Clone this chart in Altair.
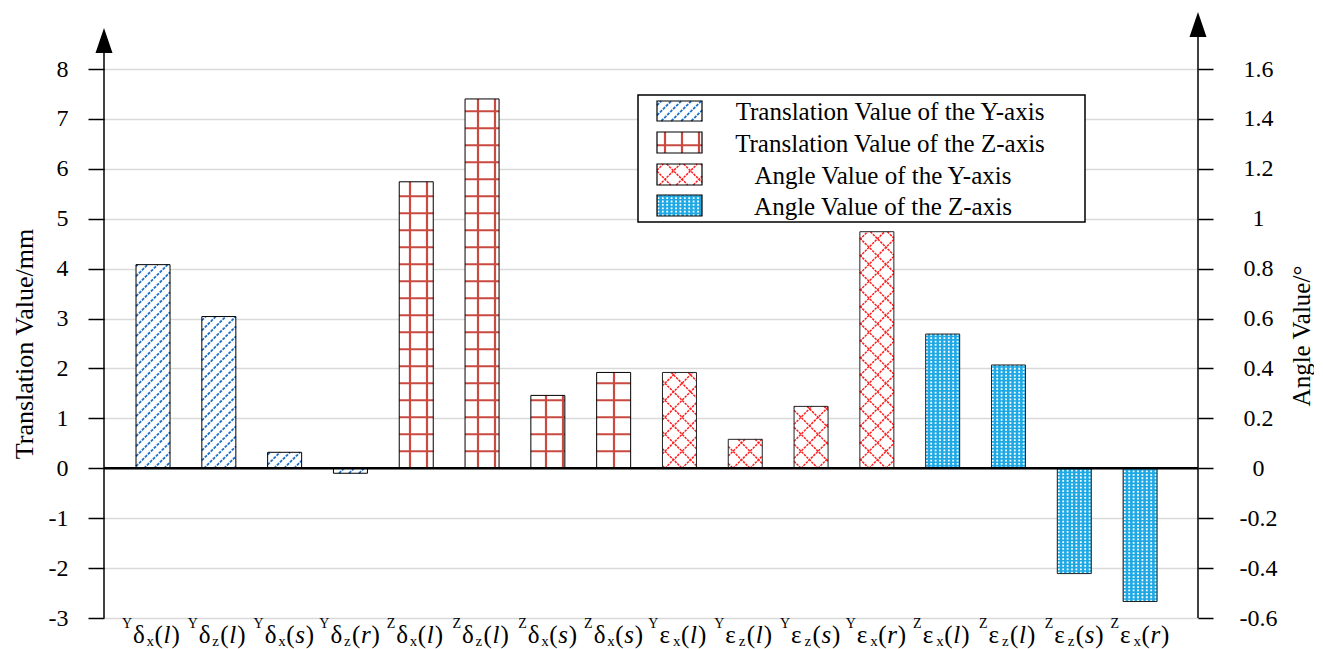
import altair as alt
import numpy as np
import pandas as pd

# ---------------- data ----------------
cat_sup = ["Y", "Y", "Y", "Y", "Z", "Z", "Z", "Z", "Y", "Y", "Y", "Y", "Z", "Z", "Z", "Z"]
cat_greek = ["δ"] * 8 + ["ε"] * 8
cat_sub = ["x", "z", "x", "z", "x", "z", "x", "x", "x", "z", "z", "x", "x", "z", "z", "x"]
cat_arg = ["l", "l", "s", "r", "l", "l", "s", "s", "l", "l", "s", "r", "l", "l", "s", "r"]
series_names = ["Translation Value of the Y-axis", "Translation Value of the Z-axis",
                "Angle Value of the Y-axis", "Angle Value of the Z-axis"]
translation_y = [4.08, 3.04, 0.32, -0.10]      # mm
translation_z = [5.74, 7.40, 1.46, 1.92]       # mm
angle_y = [0.384, 0.116, 0.248, 0.948]         # degree
angle_z = [0.538, 0.414, -0.422, -0.534]       # degree
left_ticks = [-3, -2, -1, 0, 1, 2, 3, 4, 5, 6, 7, 8]
right_ticks = [-0.6, -0.4, -0.2, 0, 0.2, 0.4, 0.6, 0.8, 1.0, 1.2, 1.4, 1.6]

# ---------------- layout / style ----------------
FONT = "Liberation Serif"
W, H = 1094, 549
PLOT_LEFT, PLOT_TOP = 104, 69
XMIN, XMAX = -0.745, 15.88
YL = [-3, 8]
YR = [-0.6, 1.6]
PXX = W / (XMAX - XMIN)
PXY = H / (YL[1] - YL[0])
RATIO = (YL[1] - YL[0]) / (YR[1] - YR[0])
ZERO_PY = PLOT_TOP + YL[1] * PXY
BAR_PX = 34
HW = BAR_PX / 2 / PXX
BLUE_FILL = "#1ea8e4"


def dx(px):
    return XMIN + (px - PLOT_LEFT) / PXX


def dy(py):
    return YL[1] - (py - PLOT_TOP) / PXY


xs = alt.Scale(domain=[XMIN, XMAX], nice=False, zero=False)
ysl = alt.Scale(domain=YL, nice=False, zero=False)
ysr = alt.Scale(domain=YR, nice=False, zero=False)

# ---------------- tables ----------------
idx = list(range(16))
series_col = [series_names[0]] * 4 + [series_names[1]] * 4 + [series_names[2]] * 4 + [series_names[3]] * 4
trans_df = pd.DataFrame({"idx": idx[:8], "value": translation_y + translation_z, "series": series_col[:8]})
angle_df = pd.DataFrame({"idx": idx[8:], "value": angle_y + angle_z, "series": series_col[8:]})
for d in (trans_df, angle_df):
    d["x0"] = d["idx"] - HW
    d["x1"] = d["idx"] + HW
    d["zero"] = 0.0
label_df = pd.DataFrame({"idx": idx, "sup": cat_sup, "greek": cat_greek, "sub": cat_sub, "arg": cat_arg,
                         "lp": ["("] * 16, "rp": [")"] * 16})

family_of = {series_names[0]: "hatch", series_names[1]: "grid",
             series_names[2]: "cross", series_names[3]: "dots"}


# pattern line generation (pixel space: u right from plot left, v up from zero line)
def diag(xl, xr, yb, yt, s, sign):
    out = []
    if sign > 0:
        cmin, cmax = yb - xr, yt - xl
    else:
        cmin, cmax = yb + xl, yt + xr
    for k in range(int(np.ceil(cmin / s)), int(np.floor(cmax / s)) + 1):
        c = k * s
        if sign > 0:
            a, b = max(xl, yb - c), min(xr, yt - c)
            if b - a > 0.6:
                out.append((a, a + c, b, b + c))
        else:
            a, b = max(xl, c - yt), min(xr, c - yb)
            if b - a > 0.6:
                out.append((a, c - a, b, c - b))
    return out


def vert(xl, xr, yb, yt, s):
    return [(k * s, yb, k * s, yt) for k in range(int(np.ceil((xl + 0.8) / s)), int(np.floor((xr - 0.8) / s)) + 1)]


def horiz(xl, xr, yb, yt, s):
    return [(xl, k * s, xr, k * s) for k in range(int(np.ceil((yb + 0.8) / s)), int(np.floor((yt - 0.8) / s)) + 1)]


def pattern(fam, xl, xr, yb, yt):
    if fam == "hatch":
        return {"hatch": diag(xl, xr, yb, yt, 10, 1)}
    if fam == "grid":
        return {"grid": vert(xl, xr, yb, yt, 17) + horiz(xl, xr, yb, yt, 17)}
    if fam == "cross":
        return {"cross": diag(xl, xr, yb, yt, 17, 1) + diag(xl, xr, yb, yt, 17, -1)}
    return {"dots": vert(xl, xr, yb, yt, 4.4)}


rects = []
for _, r in trans_df.iterrows():
    cu = (r["idx"] - XMIN) * PXX
    v = r["value"] * PXY
    rects.append((family_of[r["series"]], cu - BAR_PX / 2, cu + BAR_PX / 2, min(0, v), max(0, v)))
for _, r in angle_df.iterrows():
    cu = (r["idx"] - XMIN) * PXX
    v = r["value"] * RATIO * PXY
    rects.append((family_of[r["series"]], cu - BAR_PX / 2, cu + BAR_PX / 2, min(0, v), max(0, v)))

# legend
leg_rows_py = [(101, 121), (132, 153), (164, 185), (195, 216)]
leg_fill = ["white", "white", "white", BLUE_FILL]
sw_x0, sw_x1 = 657, 702
legend_sw = pd.DataFrame({
    "x0": [dx(sw_x0)] * 4, "x1": [dx(sw_x1)] * 4,
    "y0": [dy(a) for a, b in leg_rows_py], "y1": [dy(b) for a, b in leg_rows_py],
    "fill": leg_fill,
})
legend_txt = pd.DataFrame({"label": series_names, "x": [dx(890), dx(890), dx(883), dx(883)],
                           "y": [dy((a + b) / 2 + 1) for a, b in leg_rows_py]})
legend_box = pd.DataFrame({"x0": [dx(638)], "x1": [dx(1085)], "y0": [dy(95)], "y1": [dy(222)]})
for i, (a, b) in enumerate(leg_rows_py):
    rects.append((family_of[series_names[i]], sw_x0 - PLOT_LEFT, sw_x1 - PLOT_LEFT, ZERO_PY - b, ZERO_PY - a))

seg_rows = []
for fam, xl, xr, yb, yt in rects:
    for name, segs in pattern(fam, xl, xr, yb, yt).items():
        for (u0, v0, u1, v1) in segs:
            seg_rows.append({"fam": name, "x": XMIN + u0 / PXX, "y": v0 / PXY,
                             "x2": XMIN + u1 / PXX, "y2": v1 / PXY})
seg_df = pd.DataFrame(seg_rows)


def seg_layer(fam, color, width, dash=None):
    kw = dict(color=color, strokeWidth=width)
    if dash:
        kw["strokeDash"] = dash
    return alt.Chart(seg_df[seg_df.fam == fam]).mark_rule(**kw).encode(
        x=alt.X("x:Q", scale=xs, axis=None), x2="x2:Q",
        y=alt.Y("y:Q", scale=ysl, axis=None), y2="y2:Q")


left_axis = alt.Axis(values=left_ticks, domain=False, tickSize=16, tickColor="black", tickWidth=1.5,
                     labelFont=FONT, labelFontSize=24, labelColor="black", labelPadding=20,
                     labelExpr="datum.value < 0 ? '-' + format(-datum.value, 'd') : format(datum.value, 'd')",
                     grid=True, gridColor="#d9d9d9", gridWidth=1.5,
                     title="Translation Value/mm", titleFont=FONT, titleFontSize=26, titleFontWeight="normal",
                     titleColor="black", titleAngle=270, titleX=-80, titleY=H / 2,
                     titleBaseline="middle", titleAlign="center")
right_axis = alt.Axis(orient="right", values=right_ticks, domain=False, tickSize=15, tickColor="black",
                      tickWidth=1.5, labelFont=FONT, labelFontSize=24, labelColor="black", labelPadding=45,
                      labelAlign="center",
                      labelExpr="datum.value < 0 ? '-' + format(-datum.value, '.1~f') : format(datum.value, '.1~f')",
                      grid=False, title="Angle Value/°", titleFont=FONT, titleFontSize=25,
                      titleFontWeight="normal", titleColor="black", titleAngle=270, titleX=103, titleY=H / 2 - 8,
                      titleBaseline="middle", titleAlign="center")

bars_t = alt.Chart(trans_df).mark_bar(fill="white", stroke=None).encode(
    x=alt.X("x0:Q", scale=xs, axis=None), x2="x1:Q",
    y=alt.Y("value:Q", scale=ysl, axis=left_axis), y2="zero:Q")
bars_a = alt.Chart(angle_df).mark_bar(stroke=None).encode(
    x=alt.X("x0:Q", scale=xs, axis=None), x2="x1:Q",
    y=alt.Y("value:Q", scale=ysr, axis=right_axis), y2="zero:Q",
    fill=alt.Fill("series:N", scale=alt.Scale(domain=series_names[2:], range=["white", BLUE_FILL]), legend=None))
out_t = alt.Chart(trans_df).mark_bar(fillOpacity=0, stroke="black", strokeWidth=1).encode(
    x=alt.X("x0:Q", scale=xs, axis=None), x2="x1:Q",
    y=alt.Y("value:Q", scale=ysl, axis=None), y2="zero:Q")
out_a = alt.Chart(angle_df).mark_bar(fillOpacity=0, stroke="#222222", strokeWidth=1).encode(
    x=alt.X("x0:Q", scale=xs, axis=None), x2="x1:Q",
    y=alt.Y("value:Q", scale=ysr, axis=None), y2="zero:Q")

box = alt.Chart(legend_box).mark_rect(fill="white", stroke="black", strokeWidth=1.5).encode(
    x=alt.X("x0:Q", scale=xs, axis=None), x2="x1:Q",
    y=alt.Y("y0:Q", scale=ysl, axis=None), y2="y1:Q")
sw_fill = alt.Chart(legend_sw).mark_rect(stroke=None).encode(
    x=alt.X("x0:Q", scale=xs, axis=None), x2="x1:Q",
    y=alt.Y("y0:Q", scale=ysl, axis=None), y2="y1:Q", fill=alt.Fill("fill:N", scale=None))
sw_out = alt.Chart(legend_sw).mark_rect(fillOpacity=0, stroke="black", strokeWidth=1.2).encode(
    x=alt.X("x0:Q", scale=xs, axis=None), x2="x1:Q",
    y=alt.Y("y0:Q", scale=ysl, axis=None), y2="y1:Q")
leg_text = alt.Chart(legend_txt).mark_text(font=FONT, fontSize=25, align="center", baseline="middle",
                                           color="black").encode(
    x=alt.X("x:Q", scale=xs, axis=None), y=alt.Y("y:Q", scale=ysl, axis=None), text="label:N")

zero_df = pd.DataFrame({"x": [XMIN], "x2": [XMAX], "y": [0.0]})
zero_line = alt.Chart(zero_df).mark_rule(color="black", strokeWidth=2.5).encode(
    x=alt.X("x:Q", scale=xs, axis=None), x2="x2:Q", y=alt.Y("y:Q", scale=ysl, axis=None))

axes_df = pd.DataFrame({"x": [XMIN, XMAX], "y": [YL[0], YL[0]], "y2": [dy(50), dy(34)],
                        "ay": [dy(40.5), dy(24.5)]})
axis_lines = alt.Chart(axes_df).mark_rule(color="black", strokeWidth=1.5).encode(
    x=alt.X("x:Q", scale=xs, axis=None), y=alt.Y("y:Q", scale=ysl, axis=None), y2="y2:Q")
arrows = alt.Chart(axes_df).mark_point(shape="M0,-1L0.68,1L-0.68,1Z", size=625, filled=True,
                                       color="black", opacity=1, strokeWidth=0).encode(
    x=alt.X("x:Q", scale=xs, axis=None), y=alt.Y("ay:Q", scale=ysl, axis=None))


def lab(field, off, py, size, align="left", style="normal", flt=None):
    c = alt.Chart(label_df)
    if flt:
        c = c.transform_filter(flt)
    return c.mark_text(font=FONT, fontSize=size, fontStyle=style, align=align,
                       baseline="alphabetic", dx=off, color="black").encode(
        x=alt.X("idx:Q", scale=xs, axis=None), y=alt.value(py - PLOT_TOP), text=f"{field}:N")


labels = [
    lab("sup", -21, 628, 14, align="right"),
    lab("greek", -20, 643, 25),
    lab("sub", -6.5, 646, 15),
    lab("lp", 1.5, 643, 25),
    lab("arg", 10.5, 643, 25, style="italic"),
    lab("rp", 18.5, 643, 25, flt="datum.arg == 'l'"),
    lab("rp", 21, 643, 25, flt="datum.arg != 'l'"),
]

chart = alt.layer(
    bars_t, bars_a, box, sw_fill,
    seg_layer("hatch", "#1f70c8", 1.8, [3, 1.2]),
    seg_layer("grid", "#c94a40", 2.2),
    seg_layer("cross", "#ff2020", 1.5, [2.5, 1]),
    seg_layer("dots", "white", 1.8, [1.8, 1.6]),
    out_t, out_a, sw_out, leg_text, zero_line, axis_lines, arrows,
    *labels
).resolve_scale(y="independent").properties(
    width=W, height=H,
    padding={"left": 96, "top": 61, "right": 116, "bottom": 40},
    autosize=alt.AutoSizeParams(type="none"),
    background="white",
).configure_view(stroke=None)

chart.save("out.html", embed_options={"renderer": "svg", "actions": False})
